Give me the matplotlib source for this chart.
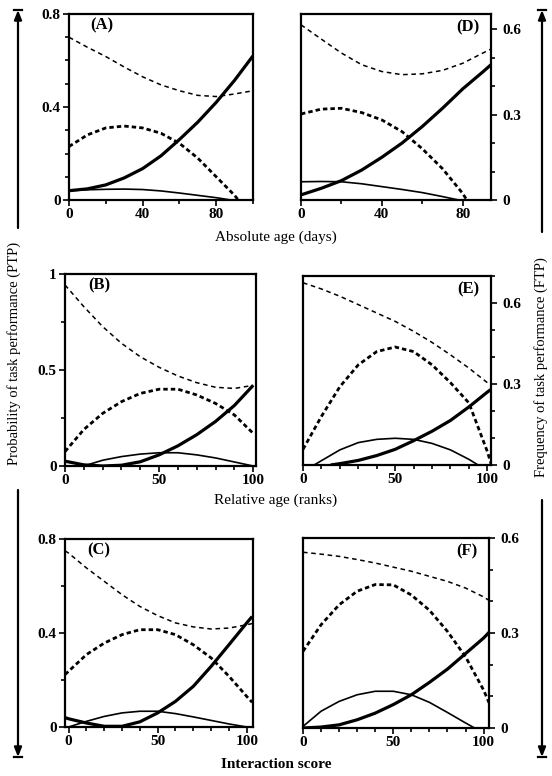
import matplotlib
matplotlib.use("Agg")
import matplotlib.pyplot as plt
from matplotlib.ticker import MultipleLocator

plt.rcParams['font.family'] = ['Liberation Serif', 'DejaVu Serif']

# ---------------- data ----------------
# Panel A : absolute age (days), PTP
A_x = [0, 10, 20, 30, 40, 50, 60, 70, 80, 90, 100]
A_thin_dash = [0.70, 0.657, 0.617, 0.572, 0.53, 0.495, 0.47, 0.45, 0.445, 0.456, 0.47]
A_thick_dash_x = [0, 10, 20, 30, 40, 50, 60, 70, 80, 90, 92]
A_thick_dash = [0.23, 0.28, 0.31, 0.318, 0.31, 0.287, 0.244, 0.18, 0.10, 0.02, 0.0]
A_thick_solid = [0.04, 0.048, 0.065, 0.095, 0.135, 0.19, 0.26, 0.335, 0.42, 0.515, 0.62]
A_thin_solid_x = [0, 10, 20, 30, 40, 50, 60, 70, 80, 88]
A_thin_solid = [0.04, 0.044, 0.046, 0.047, 0.045, 0.039, 0.03, 0.02, 0.01, 0.0]

# Panel D : absolute age (days), FTP
D_x = [0, 10, 20, 30, 40, 50, 60, 70, 80, 90, 94]
D_thin_dash = [0.615, 0.565, 0.516, 0.475, 0.451, 0.44, 0.443, 0.455, 0.48, 0.516, 0.53]
D_thick_dash_x = [0, 10, 20, 30, 40, 50, 60, 70, 80, 82]
D_thick_dash = [0.302, 0.319, 0.322, 0.307, 0.281, 0.24, 0.18, 0.11, 0.023, 0.0]
D_thick_solid = [0.018, 0.041, 0.068, 0.105, 0.15, 0.2, 0.258, 0.322, 0.39, 0.45, 0.475]
D_thin_solid_x = [0, 10, 20, 30, 40, 50, 60, 70, 78]
D_thin_solid = [0.064, 0.065, 0.064, 0.057, 0.047, 0.037, 0.026, 0.012, 0.0]

# Panel B : relative age (ranks), PTP
B_x = [0, 10, 20, 30, 40, 50, 60, 70, 80, 90, 100]
B_thin_dash = [0.943, 0.83, 0.726, 0.639, 0.569, 0.514, 0.469, 0.434, 0.41, 0.404, 0.42]
B_thick_dash = [0.075, 0.19, 0.274, 0.335, 0.378, 0.40, 0.40, 0.37, 0.326, 0.266, 0.17]
B_thick_solid = [0.025, 0.006, 0.0, 0.004, 0.022, 0.058, 0.105, 0.163, 0.232, 0.315, 0.42]
B_thin_solid_x = [10, 20, 30, 40, 50, 60, 70, 80, 90, 100]
B_thin_solid = [0.0, 0.03, 0.049, 0.062, 0.069, 0.069, 0.058, 0.042, 0.021, 0.0]

# Panel E : relative age (ranks), FTP
E_x = [0, 10, 20, 30, 40, 50, 60, 70, 80, 90, 100]
E_thin_dash = [0.675, 0.652, 0.625, 0.594, 0.563, 0.532, 0.495, 0.454, 0.408, 0.359, 0.305]
E_thick_dash_x = [0, 10, 20, 30, 40, 50, 60, 70, 80, 90, 100, 102]
E_thick_dash = [0.058, 0.18, 0.29, 0.371, 0.42, 0.437, 0.42, 0.371, 0.305, 0.23, 0.05, 0.005]
E_thick_solid_x = [15, 20, 30, 40, 50, 60, 70, 80, 90, 100, 102]
E_thick_solid = [0.0, 0.005, 0.017, 0.035, 0.058, 0.09, 0.125, 0.165, 0.215, 0.27, 0.28]
E_thin_solid_x = [6, 10, 20, 30, 40, 50, 60, 70, 80, 90, 95]
E_thin_solid = [0.0, 0.016, 0.056, 0.083, 0.095, 0.099, 0.095, 0.08, 0.056, 0.021, 0.0]

# Panel C : interaction score, PTP
C_x = [-2, 0, 10, 20, 30, 40, 50, 60, 70, 80, 90, 100, 103]
C_thin_dash = [0.75, 0.74, 0.677, 0.62, 0.563, 0.513, 0.474, 0.443, 0.426, 0.417, 0.421, 0.435, 0.44]
C_thick_dash = [0.223, 0.237, 0.308, 0.357, 0.393, 0.414, 0.414, 0.393, 0.35, 0.294, 0.216, 0.13, 0.105]
C_thick_solid = [0.04, 0.035, 0.017, 0.003, 0.003, 0.022, 0.06, 0.109, 0.173, 0.258, 0.35, 0.443, 0.47]
C_thin_solid_x = [0, 10, 20, 30, 40, 50, 60, 70, 80, 90, 100]
C_thin_solid = [0.0, 0.024, 0.045, 0.06, 0.067, 0.067, 0.057, 0.043, 0.028, 0.013, 0.0]

# Panel F : interaction score, FTP
F_x = [0, 10, 20, 30, 40, 50, 60, 70, 80, 90, 100, 103]
F_thin_dash = [0.555, 0.549, 0.542, 0.532, 0.521, 0.508, 0.495, 0.479, 0.463, 0.442, 0.414, 0.403]
F_thick_dash = [0.242, 0.326, 0.389, 0.432, 0.453, 0.452, 0.42, 0.372, 0.305, 0.225, 0.12, 0.08]
F_thick_solid = [0.0, 0.003, 0.01, 0.026, 0.047, 0.074, 0.105, 0.144, 0.186, 0.235, 0.284, 0.302]
F_thin_solid_x = [0, 10, 20, 30, 40, 50, 60, 70, 80, 90, 95]
F_thin_solid = [0.005, 0.053, 0.084, 0.105, 0.116, 0.116, 0.105, 0.081, 0.049, 0.016, 0.0]

panel_labels = ['(A)', '(D)', '(B)', '(E)', '(C)', '(F)']
row_xlabels = ['Absolute age (days)', 'Relative age (ranks)', 'Interaction score']
ptp_label = 'Probability of task performance (PTP)'
ftp_label = 'Frequency of task performance (FTP)'

# ---------------- figure ----------------
W, H = 552, 776
fig = plt.figure(figsize=(W / 100, H / 100), dpi=100)


def rect(l, r, t, b):
    return [l / W, 1 - b / H, (r - l) / W, (b - t) / H]


STY = {
    'thin_dash': dict(color='black', lw=1.1, dashes=(3, 2.4)),
    'thick_dash': dict(color='black', lw=2.0, dashes=(1.6, 1.1)),
    'thick_solid': dict(color='black', lw=2.3),
    'thin_solid': dict(color='black', lw=1.2),
}

panels = [
    ('A', rect(69, 253, 14, 200), (0, 100), (0, 0.8), [0, 40, 80], 20, [0, 0.4, 0.8], ['0', '0.4', '0.8'], 0.1, False,
     [(A_x, A_thin_dash, 'thin_dash'), (A_thick_dash_x, A_thick_dash, 'thick_dash'),
      (A_x, A_thick_solid, 'thick_solid'), (A_thin_solid_x, A_thin_solid, 'thin_solid')]),
    ('D', rect(301, 491, 14, 200), (0, 94), (0, 0.653), [0, 40, 80], 20, [0, 0.3, 0.6], ['0', '0.3', '0.6'], 0.1, True,
     [(D_x, D_thin_dash, 'thin_dash'), (D_thick_dash_x, D_thick_dash, 'thick_dash'),
      (D_x, D_thick_solid, 'thick_solid'), (D_thin_solid_x, D_thin_solid, 'thin_solid')]),
    ('B', rect(65, 256, 274, 466), (0, 101.5), (0, 1.0), [0, 50, 100], 10, [0, 0.5, 1.0], ['0', '0.5', '1'], 0.25, False,
     [(B_x, B_thin_dash, 'thin_dash'), (B_x, B_thick_dash, 'thick_dash'),
      (B_x, B_thick_solid, 'thick_solid'), (B_thin_solid_x, B_thin_solid, 'thin_solid')]),
    ('E', rect(303, 491, 276, 465), (0, 102), (0, 0.70), [0, 50, 100], 10, [0, 0.3, 0.6], ['0', '0.3', '0.6'], 0.1, True,
     [(E_x, E_thin_dash, 'thin_dash'), (E_thick_dash_x, E_thick_dash, 'thick_dash'),
      (E_thick_solid_x, E_thick_solid, 'thick_solid'), (E_thin_solid_x, E_thin_solid, 'thin_solid')]),
    ('C', rect(65, 253, 539, 727), (-2, 103.5), (0, 0.8), [0, 50, 100], 10, [0, 0.4, 0.8], ['0', '0.4', '0.8'], 0.2, False,
     [(C_x, C_thin_dash, 'thin_dash'), (C_x, C_thick_dash, 'thick_dash'),
      (C_x, C_thick_solid, 'thick_solid'), (C_thin_solid_x, C_thin_solid, 'thin_solid')]),
    ('F', rect(303, 489, 538, 728), (0, 103), (0, 0.60), [0, 50, 100], 10, [0, 0.3, 0.6], ['0', '0.3', '0.6'], 0.1, True,
     [(F_x, F_thin_dash, 'thin_dash'), (F_x, F_thick_dash, 'thick_dash'),
      (F_x, F_thick_solid, 'thick_solid'), (F_thin_solid_x, F_thin_solid, 'thin_solid')]),
]

for i, (key, r, xl, yl, xt, xmin, yt, ytl, ymin, right, curves) in enumerate(panels):
    ax = fig.add_axes(r)
    for xs, ys, st in curves:
        ax.plot(xs, ys, solid_capstyle='butt', dash_capstyle='butt', **STY[st])
    ax.set_xlim(*xl)
    ax.set_ylim(*yl)
    ax.set_xticks(xt)
    ax.set_xticklabels([str(v) for v in xt])
    ax.xaxis.set_minor_locator(MultipleLocator(xmin))
    ax.set_yticks(yt)
    ax.set_yticklabels(ytl)
    ax.yaxis.set_minor_locator(MultipleLocator(ymin))
    for s in ax.spines.values():
        s.set_linewidth(1.6)
    ax.tick_params(which='both', direction='out', width=1.2, labelsize=11, pad=2)
    ax.tick_params(which='major', length=4)
    ax.tick_params(which='minor', length=3)
    if right:
        ax.yaxis.tick_right()
        ax.tick_params(axis='y', which='both', pad=4)
    for lab in ax.get_xticklabels() + ax.get_yticklabels():
        lab.set_fontweight('bold')
    if right:
        ax.text(0.88, 0.93, panel_labels[i], transform=ax.transAxes, ha='center', va='center',
                fontsize=12, fontweight='bold')
    else:
        ax.text(0.18, 0.94, panel_labels[i], transform=ax.transAxes, ha='center', va='center',
                fontsize=12, fontweight='bold')

# row x-axis labels
for lab, y in zip(row_xlabels, [237, 500, 765]):
    fig.text(276 / W, 1 - y / H, lab, ha='center', va='center', fontsize=11,
             fontweight='bold' if lab == 'Interaction score' else 'normal')

# side labels with arrows
ov = fig.add_axes([0, 0, 1, 1])
ov.set_xlim(0, W)
ov.set_ylim(H, 0)
ov.axis('off')
ov.patch.set_alpha(0)


def arrow(x, y0, y1):
    ov.annotate('', xy=(x, y1), xytext=(x, y0),
                arrowprops=dict(arrowstyle='-|>,head_length=0.55,head_width=0.22',
                                color='black', lw=1.6, shrinkA=0, shrinkB=0))
    ov.plot([x - 4, x + 4], [y1, y1], color='black', lw=1.6)


arrow(18, 228, 10)
arrow(18, 490, 757)
arrow(542, 232, 10)
arrow(542, 500, 757)

ov.text(14, 353, ptp_label, rotation=90, ha='center', va='center', fontsize=10.5)
ov.text(541, 367, ftp_label, rotation=90, ha='center', va='center', fontsize=10.5)

fig.savefig('out.png', dpi=100)
